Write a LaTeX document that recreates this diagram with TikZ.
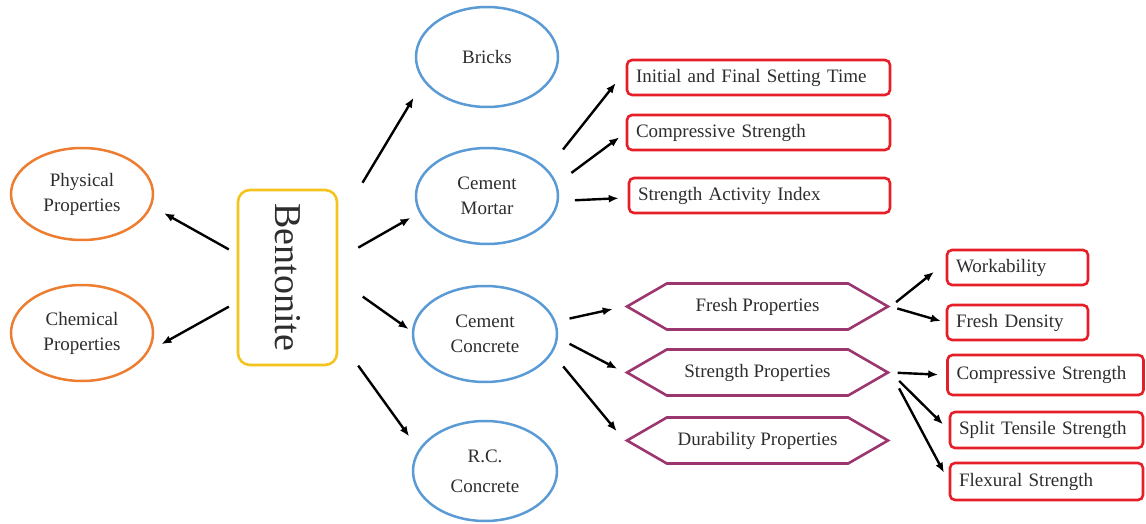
\documentclass[tikz,border=0pt]{standalone}
\usepackage{fontspec}
\setmainfont{Liberation Serif}
\usepackage{graphicx}
\usetikzlibrary{arrows.meta,shapes.geometric,shapes.symbols}
\definecolor{ovalorange}{RGB}{237,125,49}
\definecolor{ovalblue}{RGB}{91,155,213}
\definecolor{bentyellow}{RGB}{245,195,30}
\definecolor{boxred}{RGB}{230,30,40}
\definecolor{hexpurple}{RGB}{155,55,110}
\definecolor{txtgray}{RGB}{45,45,45}

\begin{document}
\begin{tikzpicture}[x=1pt, y=-1pt,
	>={Latex[length=10pt,width=8pt]},
	every node/.style={text=txtgray, font=\fontsize{19}{25}\selectfont},
	oval/.style={draw=#1, shape=ellipse, line width=2.5pt, inner sep=0pt,
				 minimum width=142pt, minimum height=96pt, align=center},
	redbox/.style={draw=boxred, line width=2.6pt, rounded corners=5pt,
				   minimum height=35pt, inner xsep=9pt, text width=#1, align=left},
	hexa/.style={draw=hexpurple, line width=2.6pt, shape=signal,
				 signal to=west and east, signal pointer angle=60,
				 minimum width=261pt, minimum height=46pt},
	link/.style={->, line width=2.4pt, black}]
	\useasboundingbox (0,0) rectangle (1146,524);

	\draw (82,194) node[oval=ovalorange, minimum height=92pt](phys) {Physical\\Properties};
	\draw (82,333) node[oval=ovalorange](chem) {Chemical\\Properties};
	\draw (287.5,277.5) node[draw=bentyellow, line width=2.6pt, rounded corners=12pt,
					 minimum width=99pt, minimum height=175pt,
					 font=\fontsize{38}{40}\selectfont](bent) {\rotatebox{-90}{Bentonite}};

	\draw (487,57) node[oval=ovalblue, minimum height=100pt](bricks) {Bricks};
	\draw (487,196) node[oval=ovalblue](mortar) {Cement\\Mortar};
	\draw (485,334) node[oval=ovalblue, minimum width=144pt](conc) {Cement\\Concrete};
	\draw (485,471) node[oval=ovalblue, minimum width=144pt, minimum height=100pt](rcc) {R.C.\\[5pt]Concrete};

	\draw (758.5,77.5) node[redbox=245pt](init) {Initial and Final Setting Time};
	\draw (758.5,132.5) node[redbox=245pt](mcomp) {Compressive Strength};
	\draw (759.5,195.5) node[redbox=243pt](sai) {Strength Activity Index};

	\draw (757.5,306.5) node[hexa](fresh) {Fresh Properties};
	\draw (757.5,372.5) node[hexa](strength) {Strength Properties};
	\draw (757.5,440.5) node[hexa](dura) {Durability Properties};

	\draw (1017.5,267.5) node[redbox=123pt](work) {Workability};
	\draw (1017.5,322.5) node[redbox=123pt](fdens) {Fresh Density};
	\draw (1045.5,375) node[redbox=178pt, minimum height=40pt](ccomp) {Compressive Strength};
	\draw (1046.5,430) node[redbox=175pt, minimum height=36pt](split) {Split Tensile Strength};
	\draw (1046.5,481.5) node[redbox=175pt, minimum height=37pt](flex) {Flexural Strength};

	\draw[link, shorten <=9pt, shorten >=14pt] (bent.155) -- (phys.-10);
	\draw[link, shorten <=9pt, shorten >=14pt] (bent.206) -- (chem.-15);
	\draw[link, shorten <=47pt, shorten >=19pt] (bent.47.5) -- (bricks.201);
	\draw[link, shorten <=23pt, shorten >=10pt] (bent.20.6) -- (mortar.194.5);
	\draw[link, shorten <=30pt, shorten >=4pt] (bent.-2.7) -- (conc.178);
	\draw[link, shorten <=34pt, shorten >=16pt] (bent.-50.7) -- (rcc.162.3);

	\draw[link, shorten <=25pt, shorten >=16pt] (mortar.24.1) -- (init.177.1);
	\draw[link, shorten <=18pt, shorten >=8pt] (mortar.10.4) -- (mcomp.180);
	\draw[link, shorten <=16pt, shorten >=9pt] (mortar.-4.6) -- (sai.181.4);

	\draw[link, shorten <=14pt, shorten >=12pt] (conc.10) -- (fresh.west);
	\draw[link, shorten <=13pt, shorten >=8pt] (conc.-3.4) -- (strength.west);
	\draw[link, shorten <=17pt, shorten >=12pt] (conc.-16.7) -- (dura.west);

	\draw[link, shorten <=7pt, shorten >=15pt] (fresh.east) -- (work.176.7);
	\draw[link, shorten <=7pt, shorten >=5pt] (fresh.east) -- (fdens.west);
	\draw[link, shorten <=7pt, shorten >=8pt] (strength.east) -- (ccomp.west);
	\draw[link, shorten <=12pt, shorten >=8pt] (strength.east) -- (split.west);
	\draw[link, shorten <=18pt, shorten >=10pt] (strength.east) -- (flex.west);
\end{tikzpicture}
\end{document}
